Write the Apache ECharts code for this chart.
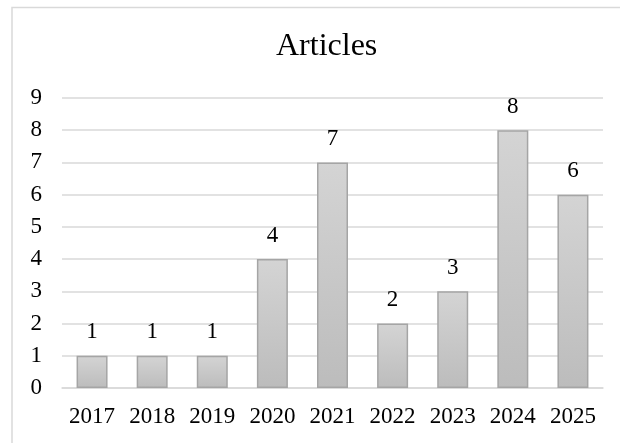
<!DOCTYPE html>
<html>
<head>
<meta charset="utf-8">
<script src="https://cdn.jsdelivr.net/npm/echarts@6/dist/echarts.min.js"></script>
<style>html,body{margin:0;padding:0;background:#fff}#c{width:620px;height:443px}</style>
</head>
<body>
<div id="c"></div>
<script>
const years = ['2017','2018','2019','2020','2021','2022','2023','2024','2025'];
const articles = [1,1,1,4,7,2,3,8,6];
const yTicks = [0,1,2,3,4,5,6,7,8,9];

const font = '"Liberation Serif", "Times New Roman", serif';
const chart = echarts.init(document.getElementById('c'), null, {renderer:'canvas'});
chart.setOption({
  backgroundColor: '#fff',
  animation: false,
  graphic: [{
    type: 'rect', silent: true, z: -1,
    shape: {x: 12, y: 7.5, width: 700, height: 600},
    style: {fill: 'none', stroke: '#d9d9d9', lineWidth: 1.5}
  }],
  title: {
    text: 'Articles', left: 271, top: 26,
    textStyle: {fontFamily: font, fontSize: 32, fontWeight: 'normal', color: '#000'}
  },
  grid: {left: 62, right: 17, top: 98, bottom: 55, containLabel: false},
  xAxis: {
    type: 'category', data: years,
    axisLine: {lineStyle: {color: '#d9d9d9', width: 1.5}},
    axisTick: {show: false},
    axisLabel: {fontFamily: font, fontSize: 23, color: '#000', margin: 17}
  },
  yAxis: {
    type: 'value', min: yTicks[0], max: yTicks[yTicks.length-1], interval: 1,
    axisLine: {show: false}, axisTick: {show: false},
    splitLine: {lineStyle: {color: '#d9d9d9', width: 1.5}},
    axisLabel: {fontFamily: font, fontSize: 23, color: '#000', margin: 20}
  },
  series: [{
    type: 'bar', data: articles, barWidth: 31,
    itemStyle: {
      color: new echarts.graphic.LinearGradient(0,0,0,1,[
        {offset:0, color:'#d4d4d4'},{offset:1, color:'#bcbcbc'}
      ]),
      borderColor: '#a5a5a5', borderWidth: 1.5
    },
    label: {show: true, position: 'top', distance: 12,
      fontFamily: font, fontSize: 23, color: '#000'}
  }]
});
</script>
</body>
</html>
